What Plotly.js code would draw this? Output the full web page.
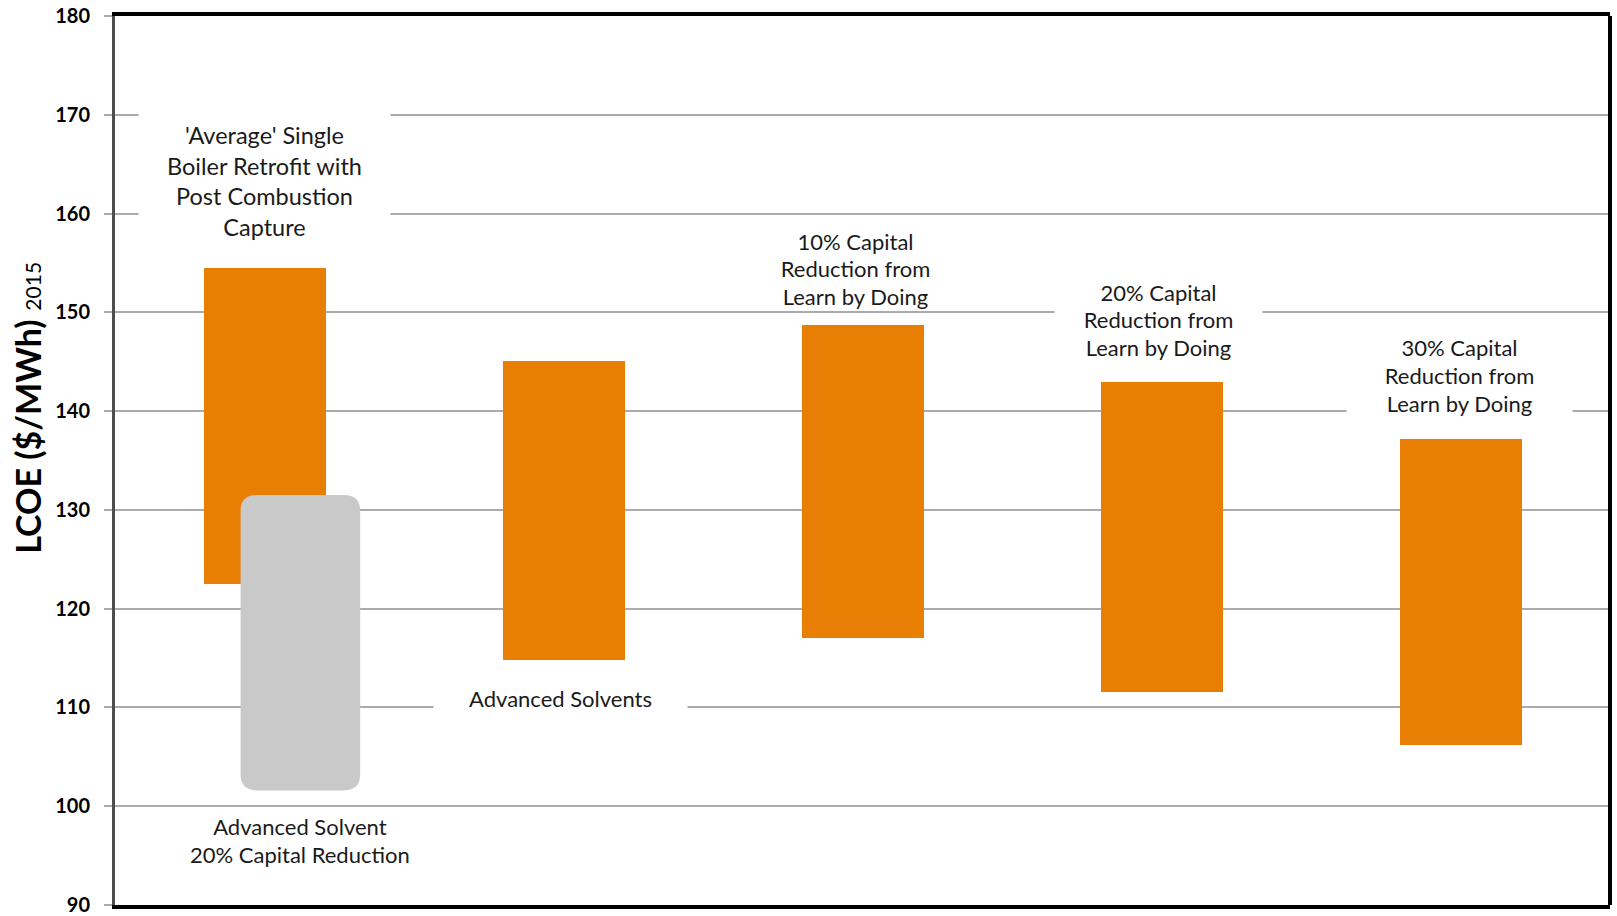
<!DOCTYPE html>
<html>
<head>
<meta charset="utf-8">
<script src="https://cdn.plot.ly/plotly-3.0.1.min.js"></script>
<style>html,body{margin:0;padding:0;background:#fff;}#chart{width:1617px;height:916px;}</style>
</head>
<body>
<div id="chart"></div>
<script>
// ---- data ----
var categories = [
  "'Average' Single<br>Boiler Retrofit with<br>Post Combustion<br>Capture",
  "Advanced Solvents",
  "10% Capital<br>Reduction from<br>Learn by Doing",
  "20% Capital<br>Reduction from<br>Learn by Doing",
  "30% Capital<br>Reduction from<br>Learn by Doing"
];
var lowValues  = [122.5, 114.8, 117.0, 111.6, 106.2];
var highValues = [154.5, 145.1, 148.7, 142.9, 137.2];
var grayLabel = "Advanced Solvent<br>20% Capital Reduction";
var grayLow = 101.6;
var grayHigh = 131.5;
var yTickValues = [90, 100, 110, 120, 130, 140, 150, 160, 170, 180];
var yTitle = "LCOE ($/MWh)";
var yTitleSub = "2015";

// ---- drawing ----
var ORANGE = '#E87E04';
var GRAY = '#C9C9C9';
var FONT = 'Lato, "Open Sans", sans-serif';
var xs = categories.map(function(_, i){ return i; });

var bars = {
  type: 'bar',
  x: xs,
  base: lowValues,
  y: highValues.map(function(h, i){ return h - lowValues[i]; }),
  width: 0.408,
  marker: {color: ORANGE, line: {width: 0}},
  hoverinfo: 'skip',
  showlegend: false
};

// gray rounded box
var gx = 0.12, gw = 0.4, rx = 0.055, ry = 1.6;
var x0 = gx - gw/2, x1 = gx + gw/2, y0 = grayLow, y1 = grayHigh;
var grayPath = 'M ' + (x0+rx) + ',' + y0 + ' L ' + (x1-rx) + ',' + y0 +
  ' Q ' + x1 + ',' + y0 + ' ' + x1 + ',' + (y0+ry) +
  ' L ' + x1 + ',' + (y1-ry) + ' Q ' + x1 + ',' + y1 + ' ' + (x1-rx) + ',' + y1 +
  ' L ' + (x0+rx) + ',' + y1 + ' Q ' + x0 + ',' + y1 + ' ' + x0 + ',' + (y1-ry) +
  ' L ' + x0 + ',' + (y0+ry) + ' Q ' + x0 + ',' + y0 + ' ' + (x0+rx) + ',' + y0 + ' Z';

function wrapLines(txt, size){
  return txt.split('<br>').map(function(l){ return '<span style="font-size:' + size + 'px">' + l + '</span>'; }).join('<br>');
}

var labelSpecs = [
  {text: categories[0], x: 0,     y: 163.3, w: 251, h: 140, fs: 23.5, lh: 23.5},
  {text: categories[1], x: 0.99,  y: 111.0, w: 253, h: 30,  fs: 22, lh: 21.5},
  {text: categories[2], x: 1.975, y: 154.4, w: 189, h: 80,  fs: 22, lh: 21.5},
  {text: categories[3], x: 2.99,  y: 149.2, w: 207, h: 90,  fs: 22, lh: 21.5},
  {text: categories[4], x: 3.995, y: 143.6, w: 225, h: 95,  fs: 22, lh: 21.5}
];
var annotations = labelSpecs.map(function(s){
  return {
    xref: 'x', yref: 'y', x: s.x, y: s.y,
    text: wrapLines(s.text, s.fs), showarrow: false,
    font: {family: FONT, size: s.lh, color: '#1a1a1a'},
    bgcolor: '#ffffff', borderpad: 0, width: s.w, height: s.h,
    xanchor: 'center', yanchor: 'middle', align: 'center', valign: 'middle'
  };
});
annotations.push({
  xref: 'x', yref: 'y', x: gx, y: 96.5,
  text: wrapLines(grayLabel, 22), showarrow: false,
  font: {family: FONT, size: 21.5, color: '#1a1a1a'},
  xanchor: 'center', yanchor: 'middle', align: 'center'
});
annotations.push({
  xref: 'paper', yref: 'paper', x: -0.059, y: 0.559,
  text: '<b>' + yTitle + '</b> <span style="font-size:21px">' + yTitleSub + '</span>',
  textangle: -90, showarrow: false,
  font: {family: FONT, size: 34, color: '#000000'},
  xanchor: 'center', yanchor: 'middle'
});

var layout = {
  width: 1617, height: 916,
  margin: {l: 115, r: 7, t: 16, b: 11},
  paper_bgcolor: '#ffffff', plot_bgcolor: '#ffffff',
  bargap: 0,
  xaxis: {
    range: [-0.5, 4.5], showgrid: false, zeroline: false,
    showticklabels: false, ticks: '',
    showline: true, linecolor: '#000000', linewidth: 4, mirror: true
  },
  yaxis: {
    range: [90, 180], tickvals: yTickValues, ticktext: yTickValues.map(String),
    showgrid: true, gridcolor: '#ababab', gridwidth: 2, zeroline: false,
    showline: true, linecolor: '#4d4d4d', linewidth: 3,
    ticks: 'outside', ticklen: 8, tickwidth: 2, tickcolor: '#aaaaaa',
    ticklabelstandoff: 10,
    tickfont: {family: FONT, size: 20, color: '#000000', weight: 'bold'}
  },
  shapes: [
    {type: 'path', xref: 'x', yref: 'y', path: grayPath,
     fillcolor: GRAY, line: {width: 0}, layer: 'above'},
    {type: 'line', xref: 'paper', yref: 'paper', x0: 1, x1: 1, y0: 0, y1: 1,
     line: {color: '#000000', width: 4}, layer: 'above'}
  ],
  annotations: annotations,
  showlegend: false
};

Plotly.newPlot('chart', [bars], layout, {displayModeBar: false, staticPlot: true});
</script>
</body>
</html>
